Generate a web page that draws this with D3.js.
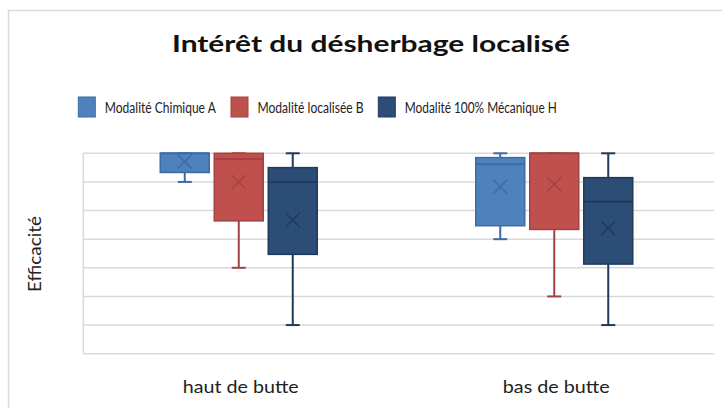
<!DOCTYPE html>
<html><head><meta charset="utf-8">
<script src="https://cdn.jsdelivr.net/npm/d3@7"></script>
<style>body{margin:0;background:#fff}svg{display:block}</style>
</head><body>
<script>
const categories = ["haut de butte", "bas de butte"];
const seriesNames = ["Modalité Chimique A", "Modalité localisée B", "Modalité 100% Mécanique H"];
// [min, q1, median, q3, max, mean] per category
const chimiqueA  = [[90, 93.3, 100, 100, 100, 97.1], [70, 74.7, 96.2, 98.5, 100, 88.3]];
const localiseeB = [[60, 76.4, 98, 100, 100, 90.0], [50, 73.4, 100, 100, 100, 89.2]];
const mecaniqueH = [[40, 64.7, 90, 95, 100, 76.7], [40, 61.3, 83.1, 91.5, 100, 73.8]];
const yTicks = [30, 40, 50, 60, 70, 80, 90, 100];

const series = [chimiqueA, localiseeB, mecaniqueH];
const fills = ["#4F81BD", "#C0504D", "#2C4D75"];
const strokes = ["#3D6BA5", "#A34240", "#203A5C"];
const FONT = "Lato, 'Open Sans', sans-serif";

const W = 722, H = 408;
const svg = d3.select("body").append("svg").attr("width", W).attr("height", H);
svg.append("rect").attr("width", W).attr("height", H).attr("fill", "#fff");
svg.append("rect").attr("x", 8.5).attr("y", 10.5).attr("width", W + 20).attr("height", H + 20)
  .attr("fill", "none").attr("stroke", "#d9d9d9").attr("stroke-width", 1.5);

const x = d3.scaleBand().domain(categories).range([83, 714]);
const y = d3.scaleLinear().domain([30, 100]).range([353.7, 153.3]);
const sub = d3.scaleBand().domain(d3.range(series.length)).range([-80.5, 76.5]).paddingInner(0.0926).paddingOuter(0);

// gridlines
svg.append("g").selectAll("line").data(yTicks).join("line")
  .attr("x1", 83).attr("x2", 714)
  .attr("y1", d => y(d)).attr("y2", d => y(d))
  .attr("stroke", "#d9d9d9").attr("stroke-width", 1.5);
svg.append("line").attr("x1", 83.3).attr("x2", 83.3).attr("y1", y(100)).attr("y2", y(30))
  .attr("stroke", "#d9d9d9").attr("stroke-width", 1.5);

// title
svg.append("text").attr("x", 371).attr("y", 52).attr("text-anchor", "middle")
  .attr("font-family", FONT).attr("font-weight", "bold").attr("font-size", 23.5).attr("fill", "#111")
  .attr("textLength", 398).attr("lengthAdjust", "spacingAndGlyphs")
  .text("Intérêt du désherbage localisé");

// legend
const legX = [78.3, 231, 378.3], legTxtW = [111, 106, 152];
const leg = svg.append("g");
seriesNames.forEach((n, i) => {
  leg.append("rect").attr("x", legX[i]).attr("y", 97).attr("width", 17).attr("height", 20)
    .attr("fill", fills[i]).attr("stroke", strokes[i]).attr("stroke-width", 1);
  leg.append("text").attr("x", legX[i] + 26.5).attr("y", 113)
    .attr("font-family", FONT).attr("font-size", 14.5).attr("fill", "#222")
    .attr("textLength", legTxtW[i]).attr("lengthAdjust", "spacingAndGlyphs").text(n);
});

// boxes
const bw = sub.bandwidth();
series.forEach((s, si) => {
  const g = svg.append("g");
  s.forEach((d, ci) => {
    const [mn, q1, md, q3, mx, mean] = d;
    const x0 = x(categories[ci]) + x.bandwidth() / 2 + sub(si);
    const cx = x0 + bw / 2;
    g.append("line").attr("x1", cx).attr("x2", cx).attr("y1", y(mx)).attr("y2", y(q3))
      .attr("stroke", strokes[si]).attr("stroke-width", 2);
    g.append("line").attr("x1", cx).attr("x2", cx).attr("y1", y(q1)).attr("y2", y(mn))
      .attr("stroke", strokes[si]).attr("stroke-width", 2);
    [mn, mx].forEach(v => g.append("line").attr("x1", cx - 7).attr("x2", cx + 7)
      .attr("y1", y(v)).attr("y2", y(v)).attr("stroke", strokes[si]).attr("stroke-width", 2));
    g.append("rect").attr("x", x0).attr("y", y(q3)).attr("width", bw).attr("height", y(q1) - y(q3))
      .attr("fill", fills[si]).attr("stroke", strokes[si]).attr("stroke-width", 1.5);
    g.append("line").attr("x1", x0).attr("x2", x0 + bw).attr("y1", y(md)).attr("y2", y(md))
      .attr("stroke", strokes[si]).attr("stroke-width", 2);
    const my = y(mean), r = 7;
    g.append("path").attr("d", `M${cx - r},${my - r}L${cx + r},${my + r}M${cx - r},${my + r}L${cx + r},${my - r}`)
      .attr("stroke", strokes[si]).attr("stroke-width", 1.5).attr("fill", "none");
  });
});

// category labels
const catW = [116, 107];
categories.forEach((c, i) => {
  svg.append("text").attr("x", x(c) + x.bandwidth() / 2).attr("y", 393).attr("text-anchor", "middle")
    .attr("font-family", FONT).attr("font-size", 17).attr("fill", "#222")
    .attr("textLength", catW[i]).attr("lengthAdjust", "spacingAndGlyphs").text(c);
});

// y axis title
svg.append("text").attr("transform", "translate(41,254) rotate(-90)").attr("text-anchor", "middle")
  .attr("font-family", FONT).attr("font-size", 17).attr("fill", "#222")
  .attr("textLength", 76).attr("lengthAdjust", "spacingAndGlyphs").text("Efficacité");
</script>
</body></html>
